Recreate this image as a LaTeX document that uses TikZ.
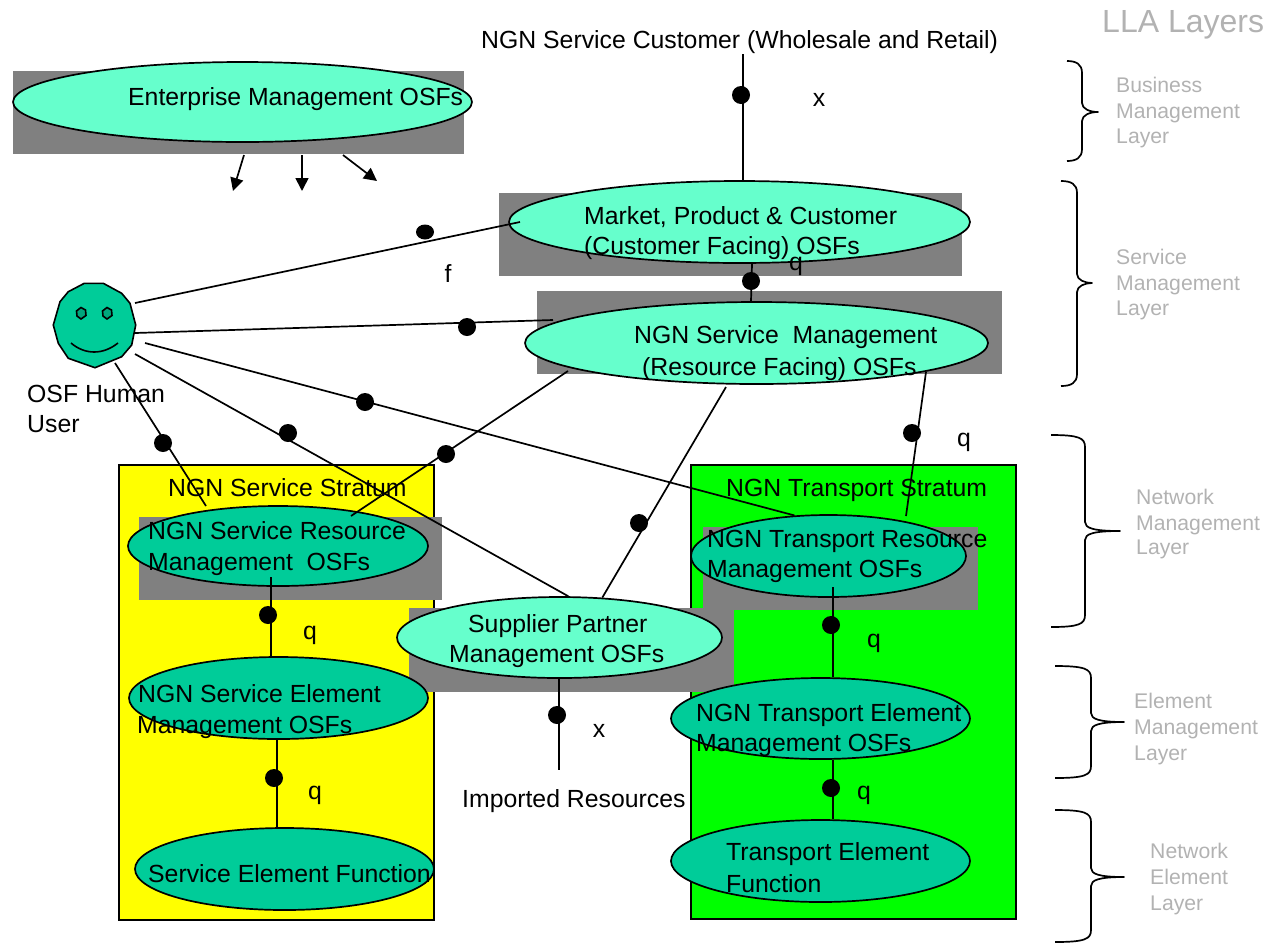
\documentclass[tikz,border=0pt]{standalone}
\usepackage{fontspec}
\setmainfont{Liberation Sans}
\usetikzlibrary{arrows.meta,shapes.geometric}
\definecolor{lightteal}{RGB}{102,255,204}
\definecolor{darkteal}{RGB}{0,204,153}
\definecolor{eyeteal}{RGB}{0,166,124}
\definecolor{greybox}{RGB}{128,128,128}
\definecolor{layertext}{RGB}{178,178,178}
\definecolor{boxyellow}{RGB}{255,255,0}
\definecolor{boxgreen}{RGB}{0,255,0}
\tikzset{
  stratum/.style={draw=black,line width=1.7pt},
  shadowbox/.style={fill=greybox},
  osflight/.style={draw=black,line width=1.7pt,fill=lightteal,ellipse,inner sep=0pt},
  osfdark/.style={draw=black,line width=1.7pt,fill=darkteal,ellipse,inner sep=0pt},
  conn/.style={draw=black,line width=1.7pt},
  arrowconn/.style={draw=black,line width=1.7pt,-{Triangle[length=13pt,width=13pt]}},
  blob/.style={circle,fill=black,inner sep=0pt,minimum size=18pt},
  lbl/.style={anchor=base west,inner sep=0pt,font=\fontsize{24.8}{24.8}\selectfont},
  iface/.style={anchor=base,inner sep=0pt,font=\fontsize{24.8}{24.8}\selectfont},
  layertxt/.style={anchor=base west,inner sep=0pt,text=layertext,font=\fontsize{21.2}{21.2}\selectfont},
  bracket/.style={draw=black,line width=1.7pt,line join=round}
}
\newcommand{\layerbrace}[6]{% xstart xspine xtip ytop ymid ybot
  \draw[bracket] (#1,#4) .. controls (#2-6,#4) and (#2,#4+3) .. (#2,#4+12)
    -- (#2,#5-9) .. controls (#2,#5-3) and (#2+8,#5) .. (#3,#5)
    .. controls (#2+8,#5) and (#2,#5+3) .. (#2,#5+9)
    -- (#2,#6-12) .. controls (#2,#6-3) and (#2-6,#6) .. (#1,#6);
}
\begin{document}
\begin{tikzpicture}[x=1pt,y=-1pt]
\useasboundingbox (0,0) rectangle (1265,946);

% strata
\path[stratum,fill=boxyellow] (119,465) rectangle (434,920);
\path[stratum,fill=boxgreen] (691,465) rectangle (1016,919);

% grey shadow boxes
\fill[shadowbox] (13,71) rectangle (464,154);
\fill[shadowbox] (499,193) rectangle (962,276);
\fill[shadowbox] (537,291) rectangle (1002,374);
\fill[shadowbox] (139,517) rectangle (442,600);
\fill[shadowbox] (703,527) rectangle (978,610);
\fill[shadowbox] (409,608) rectangle (734,692);

% ellipses
\node[osflight,minimum width=459pt,minimum height=80pt] (ent) at (242.5,102) {};
\node[osflight,minimum width=461pt,minimum height=82pt] (mkt) at (739.5,222) {};
\node[osflight,minimum width=463pt,minimum height=82pt] (svc) at (756.5,343) {};
\node[osfdark,minimum width=300pt,minimum height=80pt] (sres) at (278,546) {};
\node[osfdark,minimum width=299pt,minimum height=82pt] (sele) at (278.5,698) {};
\node[osfdark,minimum width=299pt,minimum height=82pt] (sfun) at (284.5,869) {};
\node[osfdark,minimum width=275pt,minimum height=82pt] (tres) at (828.5,556) {};
\node[osfdark,minimum width=299pt,minimum height=81pt] (tele) at (820.5,718.5) {};
\node[osfdark,minimum width=299pt,minimum height=82pt] (tfun) at (820.5,861) {};
\node[osflight,minimum width=325pt,minimum height=81pt] (sup) at (559.5,637.5) {};

% human face
\node[circle,minimum size=84pt,inner sep=0pt] (human) at (94.5,325.5) {};
\draw[line width=1.6pt,fill=darkteal] (84.3,283.3) -- (103.3,283.3) -- (121.7,293.3) -- (130,303.3) -- (135.7,325) -- (131.7,345) -- (121.7,356.7) -- (95,367.7) -- (68.3,358.3) -- (58.3,343.3) -- (53.3,325) -- (60,301.7) -- (68.3,291.7) -- cycle;
\draw[line width=1.6pt,fill=eyeteal] (81,307.5) -- (85.5,310) -- (86,315.5) -- (81,319) -- (77,316) -- (76.5,311) -- cycle;
\draw[line width=1.6pt,fill=eyeteal] (107,307.5) -- (111.5,310) -- (112,315.5) -- (107,319) -- (103,316) -- (102.5,311) -- cycle;
\draw[line width=1.6pt] (71,343) .. controls (85,355) and (103,355) .. (118,343);

% free connector ends
\coordinate (h1) at (135,303);
\coordinate (h2) at (135,333);
\coordinate (h3) at (145,343);
\coordinate (h4) at (135,354);
\coordinate (h5) at (115,363);
\coordinate (mktin) at (520,222);
\coordinate (svcin) at (553,320);
\coordinate (cust) at (743,54);
\coordinate (imp) at (559,770);
\coordinate (a1s) at (244,155);
\coordinate (a1e) at (233,191);
\coordinate (a2s) at (302,155);
\coordinate (a2e) at (302,191);
\coordinate (a3s) at (343,155);
\coordinate (a3e) at (377,181);
\coordinate (sresin) at (271,577);
\coordinate (tresin) at (833,587);
\coordinate (sresa) at (206,506);
\coordinate (sresb) at (351,516);
\coordinate (tresb) at (906,516);
\coordinate (svcb) at (726,387);
\coordinate (svca) at (568,371);
\coordinate (svcc) at (926,372);

% connectors
\draw[conn] (cust) -- (743,181);
\draw[conn] (mkt.south -| 752,0) -- (svc.north -| 751,0);
\draw[conn] (h1) -- (mktin);
\draw[conn] (h2) -- (svcin);
\draw[conn] (h3) -- (tres.130);
\draw[conn] (h4) -- (sup.78);
\draw[conn] (h5) -- (sresa);
\draw[conn] (svca) -- (sresb);
\draw[conn] (svcb) -- (sup.43.6);
\draw[conn] (svcc) -- (tresb);
\draw[conn] (sresin) -- (sele.north -| sresin);
\draw[conn] (277,739) -- (277,827);
\draw[conn] (sup.south -| imp) -- (imp);
\draw[conn] (tresin) -- (tele.north -| tresin);
\draw[conn] (tele.south -| tresin) -- (tfun.north -| tresin);
\draw[arrowconn] (a1s) -- (a1e);
\draw[arrowconn] (a2s) -- (a2e);
\draw[arrowconn] (a3s) -- (a3e);

% interface dots
\node[blob] (d1) at (741,95) {};
\node[blob] (d2) at (751,281) {};
\node[ellipse,fill=black,inner sep=0pt,minimum width=18pt,minimum height=15pt] (d3) at (425,232) {};
\node[blob] (d4) at (467,327) {};
\node[blob] (d5) at (365,402) {};
\node[blob] (d6) at (288,433) {};
\node[blob] (d7) at (163,443) {};
\node[blob] (d8) at (446,454) {};
\node[blob] (d9) at (639,523) {};
\node[blob] (d10) at (912,433) {};
\node[blob] (d11) at (268,615) {};
\node[blob] (d12) at (274,778) {};
\node[blob] (d13) at (557,715) {};
\node[blob] (d14) at (831,625) {};
\node[blob] (d15) at (831,788) {};

% texts
\node[lbl] (t1) at (481,48) {NGN Service Customer (Wholesale and Retail)};
\node[lbl] (t2) at (128,105) {Enterprise Management OSFs};
\node[lbl] (t3) at (584,224) {Market, Product \& Customer};
\node[lbl] (t4) at (584,254) {(Customer Facing) OSFs};
\node[lbl] (t5) at (634,343) {NGN Service\ \ Management};
\node[lbl] (t6) at (642,375) {(Resource Facing) OSFs};
\node[lbl] (t7) at (27,402) {OSF Human};
\node[lbl] (t8) at (27,432) {User};
\node[lbl] (t9) at (168,496) {NGN Service Stratum};
\node[lbl] (t10) at (148,539) {NGN Service Resource};
\node[lbl] (t11) at (148,570) {Management\ \ OSFs};
\node[lbl] (t12) at (726,496) {NGN Transport Stratum};
\node[lbl] (t13) at (707,547) {NGN Transport Resource};
\node[lbl] (t14) at (707,577) {Management OSFs};
\node[lbl] (t15) at (468,632) {Supplier Partner};
\node[lbl] (t16) at (449,662) {Management OSFs};
\node[lbl] (t17) at (138,702) {NGN Service Element};
\node[lbl] (t18) at (137,733) {Management OSFs};
\node[lbl] (t19) at (696,721) {NGN Transport Element};
\node[lbl] (t20) at (696,751) {Management OSFs};
\node[lbl] (t21) at (462,807) {Imported Resources};
\node[lbl] (t22) at (148,882) {Service Element Function};
\node[lbl] (t23) at (726,860) {Transport Element};
\node[lbl] (t24) at (726,892) {Function};

% interface labels
\node[iface] (i1) at (819,106) {x};
\node[iface] (i2) at (796,270) {q};
\node[iface] (i3) at (448,282) {f};
\node[iface] (i4) at (964,446) {q};
\node[iface] (i5) at (310,639) {q};
\node[iface] (i6) at (874,647) {q};
\node[iface] (i7) at (599,737) {x};
\node[iface] (i8) at (315,799) {q};
\node[iface] (i9) at (864,799) {q};

% layers column
\node[anchor=base west,inner sep=0pt,text=layertext,font=\fontsize{32}{32}\selectfont] (lla) at (1102,32) {LLA Layers};
\layerbrace{1067}{1082}{1098}{61}{112}{161}
\layerbrace{1061}{1077}{1092}{181}{283}{386}
\layerbrace{1051}{1085}{1120}{435}{531}{627}
\layerbrace{1055}{1091}{1124}{666}{722}{778}
\layerbrace{1055}{1091}{1124}{810}{877}{942}
\node[layertxt] (b1) at (1116,92) {Business};
\node[layertxt] (b2) at (1116,118) {Management};
\node[layertxt] (b3) at (1116,143) {Layer};
\node[layertxt] (s1) at (1116,264) {Service};
\node[layertxt] (s2) at (1116,290) {Management};
\node[layertxt] (s3) at (1116,315) {Layer};
\node[layertxt] (n1) at (1136,504) {Network};
\node[layertxt] (n2) at (1136,530) {Management};
\node[layertxt] (n3) at (1136,554) {Layer};
\node[layertxt] (e1) at (1134,708) {Element};
\node[layertxt] (e2) at (1134,734) {Management};
\node[layertxt] (e3) at (1134,760) {Layer};
\node[layertxt] (g1) at (1150,858) {Network};
\node[layertxt] (g2) at (1150,884) {Element};
\node[layertxt] (g3) at (1150,910) {Layer};
\end{tikzpicture}
\end{document}
